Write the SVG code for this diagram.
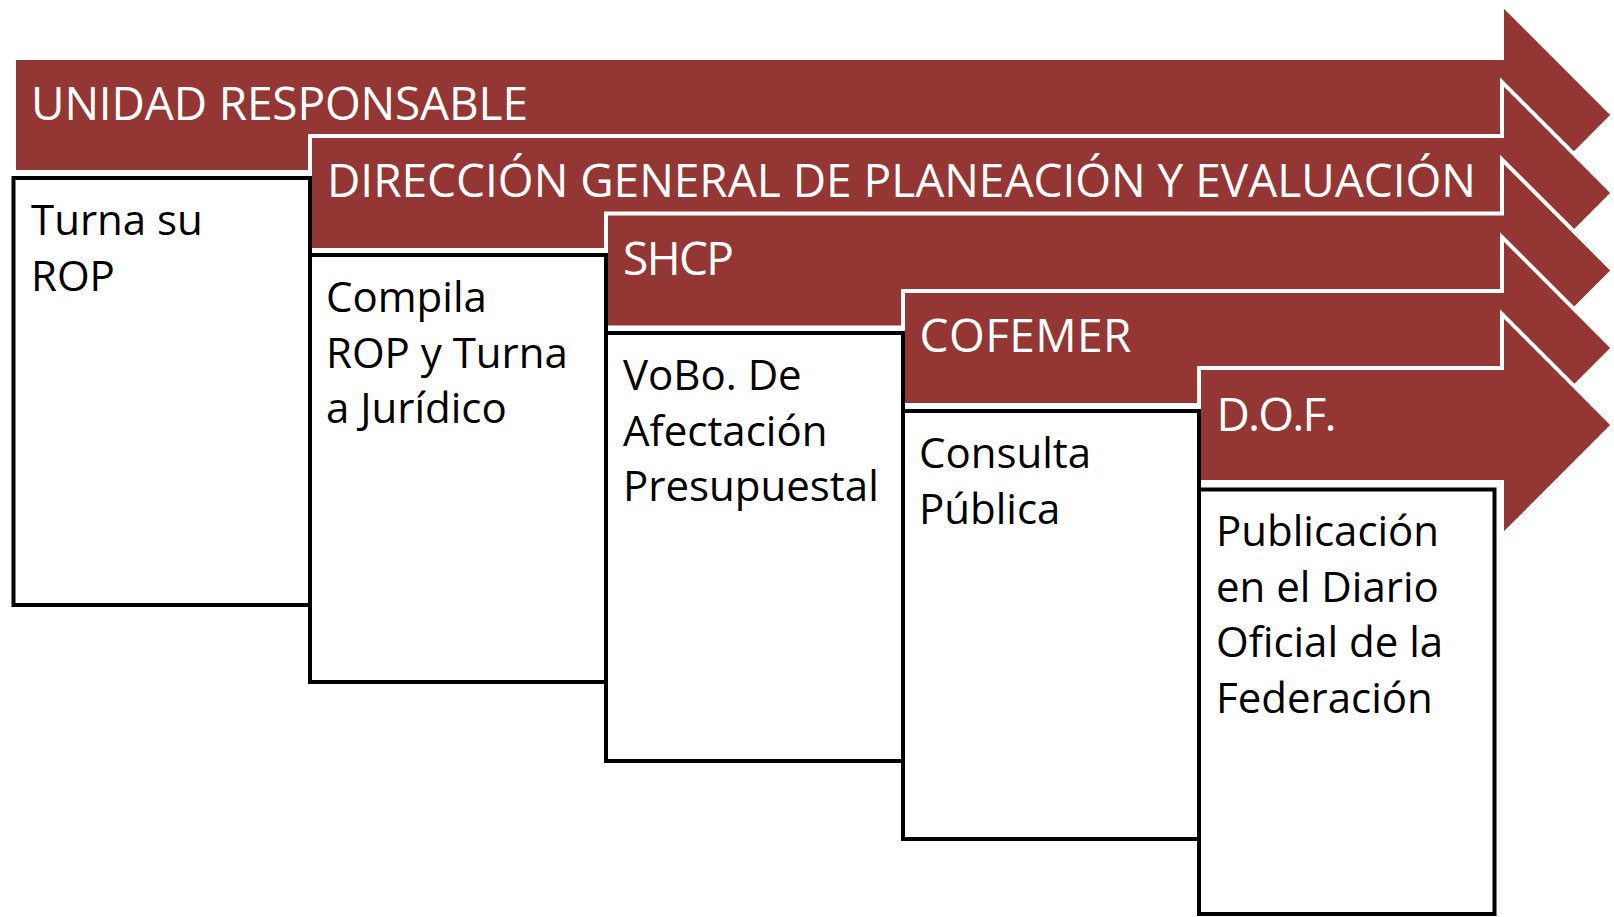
<svg xmlns="http://www.w3.org/2000/svg" width="1614" height="917" viewBox="0 0 1614 917">
<style>
.arrow{fill:#943634;stroke:#ffffff;stroke-width:4;stroke-linejoin:miter}
.box{fill:#ffffff;stroke:#000000;stroke-width:4}
.hdr{fill:#ffffff;font-family:"Open Sans","Liberation Sans",sans-serif;font-size:46px}
.body{fill:#000000;font-family:"Open Sans","Liberation Sans",sans-serif;font-size:42px}
</style>
<rect width="1614" height="917" fill="#ffffff"/>
<g id="arrow-unidad">
<path class="arrow" d="M14,58 H1502 V4 L1613,115 L1502,226 V172 H14 Z"/>
<text class="hdr" x="31" y="119.5" textLength="497">UNIDAD RESPONSABLE</text>
</g>
<g id="arrow-direccion">
<path class="arrow" d="M310,136 H1502 V82 L1613,193 L1502,304 V250 H310 Z"/>
<text class="hdr" x="327" y="197" textLength="1149">DIRECCIÓN GENERAL DE PLANEACIÓN Y EVALUACIÓN</text>
</g>
<g id="arrow-shcp">
<path class="arrow" d="M606,213.5 H1502 V159.5 L1613,270.5 L1502,381.5 V327.5 H606 Z"/>
<text class="hdr" x="623" y="275" textLength="111">SHCP</text>
</g>
<g id="arrow-cofemer">
<path class="arrow" d="M903,291 H1502 V237 L1613,348 L1502,459 V405 H903 Z"/>
<text class="hdr" x="919.5" y="352" textLength="212">COFEMER</text>
</g>
<g id="arrow-dof">
<path class="arrow" d="M1199,368 H1502 V314 L1613,425 L1502,536 V482 H1199 Z"/>
<text class="hdr" x="1216.5" y="430.5" textLength="120">D.O.F.</text>
</g>
<g id="box-unidad">
<rect class="box" x="13.5" y="178" width="296.5" height="427"/>
<text class="body" x="31" y="235">Turna su</text>
<text class="body" x="31" y="290.6">ROP</text>
</g>
<g id="box-direccion">
<rect class="box" x="310" y="255" width="296" height="427"/>
<text class="body" x="326" y="312">Compila</text>
<text class="body" x="326" y="367.6">ROP y Turna</text>
<text class="body" x="326" y="423.2">a Jurídico</text>
</g>
<g id="box-shcp">
<rect class="box" x="606" y="333" width="297" height="428"/>
<text class="body" x="623" y="390">VoBo. De</text>
<text class="body" x="623" y="445.6">Afectación</text>
<text class="body" x="623" y="501.2">Presupuestal</text>
</g>
<g id="box-cofemer">
<rect class="box" x="903" y="411" width="296" height="428"/>
<text class="body" x="919" y="468">Consulta</text>
<text class="body" x="919" y="523.6">Pública</text>
</g>
<g id="box-dof">
<rect class="box" x="1199" y="489.5" width="295.5" height="424.5"/>
<text class="body" x="1216" y="546">Publicación</text>
<text class="body" x="1216" y="601.6">en el Diario</text>
<text class="body" x="1216" y="657.2">Oficial de la</text>
<text class="body" x="1216" y="712.8">Federación</text>
</g>
<g id="connectors"></g>
</svg>
